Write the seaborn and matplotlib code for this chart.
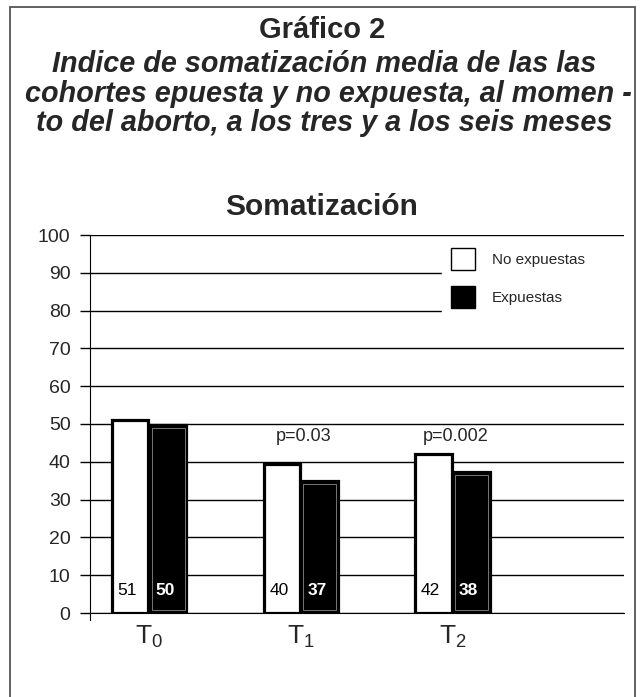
import pandas as pd
import seaborn as sns
import matplotlib.pyplot as plt
from matplotlib.patches import Patch, Rectangle

# data
tiempos = ["T0", "T1", "T2"]
tick_labels = [r"$\mathregular{T_0}$", r"$\mathregular{T_1}$", r"$\mathregular{T_2}$"]
no_expuestas = [51, 39.5, 42]
expuestas = [49.7, 35, 37.2]
etiquetas_no = ["51", "40", "42"]
etiquetas_exp = ["50", "37", "38"]
p_valores = ["", "p=0.03", "p=0.002"]

df = pd.DataFrame({
    "tiempo": tiempos * 2,
    "valor": no_expuestas + expuestas,
    "grupo": ["No expuestas"] * 3 + ["Expuestas"] * 3,
})

sns.set_style("white")
plt.rcParams["font.family"] = ["Liberation Sans", "DejaVu Sans"]
plt.rcParams["mathtext.fontset"] = "custom"
plt.rcParams["mathtext.rm"] = "Liberation Sans"

fig = plt.figure(figsize=(6.41, 6.97), dpi=100)
ax = fig.add_axes([90 / 641, 84 / 697, 534 / 641, 378 / 697])

sns.barplot(data=df, x="tiempo", y="valor", hue="grupo",
            palette={"No expuestas": "white", "Expuestas": "black"},
            edgecolor="black", linewidth=2.3, width=0.5, gap=0.04,
            legend=False, ax=ax, zorder=3)

# thin grey inner outline on the black bars, as in the original
for bar in ax.containers[1]:
    ax.add_patch(Rectangle((bar.get_x() + 0.012, 0.8), bar.get_width() - 0.024,
                           bar.get_height() - 1.6, fill=False,
                           edgecolor="#777777", lw=0.7, zorder=3.5))

ax.set_ylim(0, 100)
ax.set_xlim(-0.39, 3.13)
ax.set_yticks(range(0, 101, 10))
ax.set_xticks(range(3))
ax.set_xticklabels(tick_labels, fontsize=19)
ax.tick_params(axis="y", labelsize=14, length=7, width=1, color="black", pad=7, left=True)
ax.tick_params(axis="x", length=0, pad=8)
ax.set_xlabel("")
ax.set_ylabel("")

ax.yaxis.grid(True, color="black", lw=1)
ax.set_axisbelow(True)
for s in ["top", "right"]:
    ax.spines[s].set_visible(False)
ax.spines["left"].set_color("black")
ax.spines["bottom"].set_color("black")
ax.spines["left"].set_bounds(-1.9, 100)

# value labels at the foot of each bar
for cont, labs, col, wt in zip(ax.containers, [etiquetas_no, etiquetas_exp],
                               ["black", "white"], ["normal", "bold"]):
    for bar, lab in zip(cont, labs):
        ax.text(bar.get_x() + bar.get_width() / 2 - 0.02, 6, lab, ha="center",
                va="center", fontsize=12.5, color=col, fontweight=wt, zorder=5)

for i, p in enumerate(p_valores):
    if p:
        ax.text(i + 0.02, 46.6, p, ha="center", va="center", fontsize=13, zorder=5)

handles = [Patch(facecolor="white", edgecolor="black", lw=1),
           Patch(facecolor="black", edgecolor="black", lw=1)]
leg = ax.legend(handles, ["No expuestas", "Expuestas"], loc="upper left",
                bbox_to_anchor=(0.66, 0.2, 0.34, 0.787), mode="expand",
                borderaxespad=0, borderpad=0.55, fontsize=11,
                handlelength=1.6, handleheight=1.84, handletextpad=1.1,
                labelspacing=1.0, frameon=True, fancybox=False,
                facecolor="white", edgecolor="white", framealpha=1)
leg.set_zorder(4)

fig.text(322 / 641, 1 - 38 / 697, "Gráfico 2", ha="center", va="baseline",
         fontsize=21, fontweight="bold")
lineas = ["Indice de somatización media de las las",
          "cohortes epuesta y no expuesta, al momen -",
          "to del aborto, a los tres y a los seis meses"]
centros = [324, 328, 324]
for k, (linea, cx) in enumerate(zip(lineas, centros)):
    fig.text(cx / 641, 1 - (72 + 29.5 * k) / 697, linea, ha="center", va="baseline",
             fontsize=20.7, fontweight="bold", fontstyle="italic")
fig.text(322 / 641, 1 - 215 / 697, "Somatización", ha="center", va="baseline",
         fontsize=21.5, fontweight="bold")

fig.add_artist(Rectangle((10 / 641, -0.05), 625 / 641, 1.05 - 7 / 697,
                         transform=fig.transFigure, fill=False,
                         edgecolor="#555555", lw=1.3))

fig.savefig("out.png", dpi=100)
